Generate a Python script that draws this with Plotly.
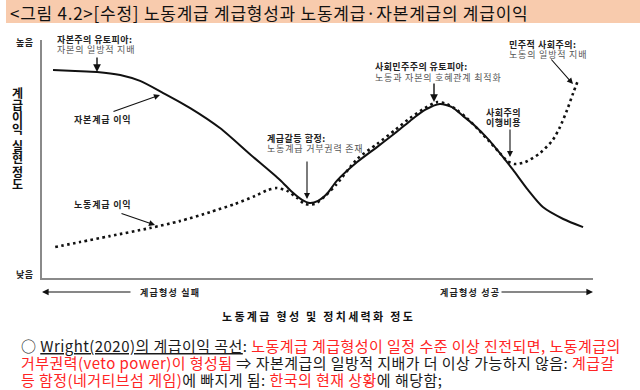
import plotly.graph_objects as go

W, H = 640, 390

# Conceptual data: x = 노동계급 형성 및 정치세력화 정도 (0-100), y = 계급이익 실현 정도 (0-100)
capital_x = [2.0, 6.0, 10.0, 14.2, 17.8, 22.0, 26.9, 32.3, 37.7, 43.2, 45.4, 47.2, 48.6, 50.1,
             51.7, 53.5, 57.2, 60.8, 64.1, 66.8, 69.5, 72.2, 74.4, 76.4, 78.6, 80.8, 83.1,
             85.5, 88.2, 90.9, 94.6, 98.2]
capital_y = [87.4, 87.0, 86.6, 85.3, 82.8, 77.7, 71.4, 63.0, 52.1, 41.2, 36.1, 32.8, 31.5, 32.4,
             35.3, 40.8, 48.7, 55.0, 60.9, 66.0, 70.6, 73.1, 71.8, 68.1, 63.9, 58.8, 52.5,
             45.4, 37.0, 29.8, 24.8, 21.4]

labor_x = [2.4, 6.9, 12.3, 19.6, 25.0, 30.5, 35.0, 38.7, 41.0, 42.6, 44.5, 46.3, 47.7, 49.5,
           51.4, 53.5, 57.2, 60.8, 64.1, 66.8, 69.5, 71.7, 73.5, 75.3, 77.1, 79.1, 81.3,
           83.1, 84.4, 85.7, 87.7, 90.4, 92.7, 94.0, 95.3, 96.4, 97.3]
labor_y = [13.0, 15.1, 17.6, 21.0, 23.9, 27.7, 31.1, 34.5, 37.0, 37.8, 36.6, 33.6, 31.1, 31.1,
           34.5, 39.5, 50.0, 56.3, 62.2, 67.2, 71.4, 73.9, 73.1, 70.6, 67.2, 62.6, 57.1,
           52.5, 49.2, 47.9, 48.7, 52.5, 58.0, 63.4, 70.6, 77.7, 83.2]

title_text = "<그림 4.2>[수정] 노동계급 계급형성과 노동계급·자본계급의 계급이익"
y_title_groups = [["계", "급", "이", "익"], ["실", "현"], ["정", "도"]]
x_title = "노동계급 형성 및 정치세력화 정도"

FONT = "Noto Sans CJK KR"
RED = "#FF2424"
DARK = "#222222"
GRAY = "#555555"


def px(x):
    return x / W


def py(y):
    return 1 - y / H


fig = go.Figure()
fig.add_trace(go.Scatter(
    x=capital_x, y=capital_y, mode="lines",
    line=dict(color="#111111", width=2, shape="spline", smoothing=0.7),
    hoverinfo="skip", showlegend=False))
fig.add_trace(go.Scatter(
    x=labor_x, y=labor_y, mode="lines",
    line=dict(color="#111111", width=2.6, dash="2.6px,3.4px", shape="spline", smoothing=0.7),
    hoverinfo="skip", showlegend=False))

anns = []


def styled(t, size=None, bold=False, color=None, ls=0.0):
    css = []
    if size:
        css.append("font-size:%spx" % size)
    if ls:
        css.append("letter-spacing:%spx" % ls)
    if color:
        css.append("color:%s" % color)
    body = ("<b>%s</b>" % t) if bold else t
    return "<span style='%s'>%s</span>" % (";".join(css), body) if css else body


def block(parts, x, y, pitch=10.4, xanchor="left", align="left", color=DARK):
    """parts: list of already-styled lines; pitch = line spacing in px (plotly uses 1.3em)."""
    anns.append(dict(
        text="<br>".join(parts),
        x=px(x), y=py(y), xref="paper", yref="paper",
        xanchor=xanchor, yanchor="middle", align=align, showarrow=False,
        font=dict(family=FONT, size=pitch / 1.3, color=color)))


def text(t, x, y, size=9, bold=False, color=DARK, xanchor="left", ls=0.8):
    anns.append(dict(
        text=styled(t, bold=bold, ls=ls),
        x=px(x), y=py(y), xref="paper", yref="paper",
        xanchor=xanchor, yanchor="middle", showarrow=False,
        font=dict(family=FONT, size=size, color=color)))


def arrow(hx, hy, tx, ty, width=1.4):
    anns.append(dict(
        text="", x=px(hx), y=py(hy), xref="paper", yref="paper",
        ax=tx - hx, ay=ty - hy, axref="pixel", ayref="pixel",
        showarrow=True, arrowhead=2, arrowsize=1.1, arrowwidth=width,
        arrowcolor="#111111"))


# title
text(title_text, 8, 12, size=17, color="#111111", ls=0.75)

# y-axis end labels
text("높음", 25, 42, size=9, bold=True, xanchor="center", ls=0.5)
text("낮음", 25, 274, size=9, bold=True, xanchor="center", ls=0.5)

# y title (vertical, stacked characters)
for grp, yc in zip(y_title_groups, [110, 152, 178]):
    block([styled(c, size=12, bold=True) for c in grp], 17, yc, pitch=12,
          xanchor="center", align="center", color="#111111")

# curve annotations
block([styled("자본주의 유토피아:", size=9, bold=True, ls=0.4),
       styled("자본의 일방적 지배", size=9, color=GRAY, ls=0.8)], 55, 44, pitch=10.4)
arrow(97, 72, 97, 56)

text("자본계급 이익", 72, 119, bold=True)
arrow(160, 95, 112, 112, width=1.1)

block([styled("계급갈등 함정:", size=9, bold=True, ls=0.5),
       styled("노동계급 거부권력 존재", size=9, color=GRAY, ls=0.8)], 265, 143, pitch=10.4)
arrow(307, 199, 307, 160, width=1.1)

block([styled("사회민주주의 유토피아:", size=9, bold=True, ls=0.4),
       styled("노동과 자본의 호혜관계 최적화", size=9, color=GRAY, ls=0.8)], 373, 71.5, pitch=11)
arrow(434, 102, 434, 82)

block([styled("민주적 사회주의:", size=9, bold=True, ls=0.5),
       styled("노동의 일방적 지배", size=9, color=GRAY, ls=0.8)], 507, 50, pitch=10.4)
arrow(573, 84, 550, 58, width=1.1)

block([styled("사회주의", size=9, bold=True, ls=0.5),
       styled("이행비용", size=9, bold=True, ls=0.5)], 503, 117, pitch=10.4,
      xanchor="center", align="center")
arrow(510, 157, 510, 128, width=1.1)

text("노동계급 이익", 72, 204, bold=True)
arrow(155, 225, 120, 213, width=1.1)

# x-axis direction labels
arrow(42, 292, 132, 292, width=1.2)
text("계급형성 실패", 138, 292, bold=True, ls=1.2)
text("계급형성 성공", 438, 292, bold=True, ls=1.2)
arrow(593, 292, 500, 292, width=1.2)

# x title
text(x_title, 318, 316, size=11, bold=True, color="#111111", xanchor="center", ls=2.3)

# notes
line1 = ("○ <u>Wright(2020)의 계급이익 곡선</u>: "
         "<span style='color:%s'>노동계급 계급형성이 일정 수준 이상 진전되면, 노동계급의</span>" % RED)
line2 = ("<span style='color:%s'>거부권력(veto power)이 형성됨</span> ⇒ 자본계급의 일방적 지배가 더 이상 가능하지 않음: "
         "<span style='color:%s'>계급갈</span>" % (RED, RED))
line3 = ("<span style='color:%s'>등 함정(네거티브섬 게임)</span>에 빠지게 됨: "
         "<span style='color:%s'>한국의 현재 상황</span>에 해당함;" % (RED, RED))
block([styled(line1, size=15, ls=0.45),
       styled(line2, size=15, ls=0.45),
       styled(line3, size=15, ls=0.45)], 19, 362, pitch=17, color="#1a1a1a")

fig.update_layout(
    width=W, height=H,
    margin=dict(l=0, r=0, t=0, b=0),
    paper_bgcolor="white", plot_bgcolor="white",
    showlegend=False,
    annotations=anns,
    shapes=[dict(type="rect", xref="paper", yref="paper",
                 x0=px(6), x1=1, y0=py(23), y1=1,
                 fillcolor="#F8CBAD", line=dict(width=0), layer="below")],
    xaxis=dict(domain=[px(42), px(593)], range=[0, 100], showline=True,
               linecolor="#8a8a8a", linewidth=1.5, showgrid=False, zeroline=False,
               showticklabels=False, ticks="", fixedrange=True),
    yaxis=dict(domain=[py(278), py(40)], range=[0, 100], showline=True,
               linecolor="#8a8a8a", linewidth=1.5, showgrid=False, zeroline=False,
               showticklabels=False, ticks="", fixedrange=True),
)

fig.write_html("out.html", config={"displayModeBar": False},
               post_script="document.body.style.margin='0px';")
